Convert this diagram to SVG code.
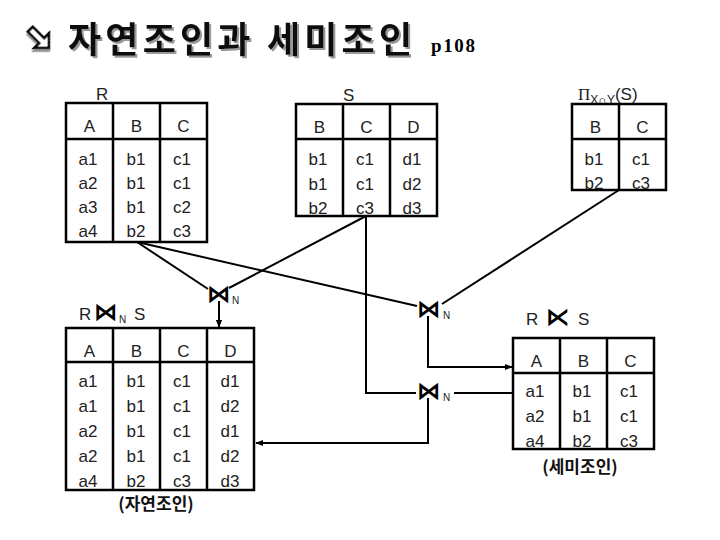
<svg xmlns="http://www.w3.org/2000/svg" width="720" height="540" viewBox="0 0 720 540">
<defs>
<style>
.tb{fill:#fff;stroke:#000;stroke-width:2.5}
.ln{stroke:#000;stroke-width:2.5;fill:none}
.cn{stroke:#000;stroke-width:2;fill:none}
.t{font-family:"Liberation Sans","Noto Sans CJK KR",sans-serif;font-size:17px;fill:#222;text-anchor:middle}
.lb{font-family:"Liberation Sans","Noto Sans CJK KR",sans-serif;font-size:17px;fill:#222}
.bt{font-family:"DejaVu Sans",sans-serif;font-size:24px;font-weight:bold;fill:#000}
.sub{font-family:"Liberation Sans",sans-serif;font-size:10px;fill:#222}
.kr{font-family:"Noto Sans CJK KR",sans-serif;font-weight:bold;fill:#111}
</style>
<filter id="sh" x="-5%" y="-20%" width="115%" height="150%">
<feOffset in="SourceAlpha" dx="2" dy="2" result="o"/>
<feFlood flood-color="#999"/>
<feComposite in2="o" operator="in" result="s"/>
<feMerge><feMergeNode in="s"/><feMergeNode in="SourceGraphic"/></feMerge>
</filter>
<marker id="ah" viewBox="0 0 10 10" refX="9" refY="5" markerWidth="8" markerHeight="8" markerUnits="userSpaceOnUse" orient="auto">
<path d="M0,1 L10,5 L0,9 Z" fill="#000"/>
</marker>
</defs>
<rect width="720" height="540" fill="#fff"/>

<g id="title">
<g transform="translate(40,39) rotate(45) scale(1.15)" filter="url(#sh)">
<polygon points="-12,-3 2,-3 2,-9 11,0 2,9 2,3 -12,3" fill="#fff" stroke="#000" stroke-width="2.3"/>
</g>
<text class="kr" x="68" y="53" font-size="36" textLength="344" lengthAdjust="spacing" filter="url(#sh)">자연조인과 세미조인</text>
<text x="431" y="52" font-family="Liberation Serif" font-weight="bold" font-size="19" textLength="44" lengthAdjust="spacing">p108</text>
</g>

<g id="connectors">
<line class="cn" x1="137" y1="242" x2="208" y2="289"/>
<line class="cn" x1="137" y1="242" x2="417" y2="306"/>
<line class="cn" x1="366" y1="216" x2="229" y2="288"/>
<polyline class="cn" points="366,216 366,393 416,393"/>
<line class="cn" x1="619" y1="190" x2="442" y2="304"/>
<line class="cn" x1="219" y1="301" x2="219" y2="327" marker-end="url(#ah)"/>
<polyline class="cn" points="428,316 428,367 512,367" marker-end="url(#ah)"/>
<line class="cn" x1="454" y1="393" x2="513" y2="393"/>
<polyline class="cn" points="428,398 428,443 256,443" marker-end="url(#ah)"/>
</g>

<g id="join1">
<text class="bt" x="219" y="302" text-anchor="middle">⋈</text>
<text class="sub" x="232" y="304">N</text>
</g>
<g id="join2">
<text class="bt" x="429" y="317" text-anchor="middle">⋈</text>
<text class="sub" x="443" y="319">N</text>
</g>
<g id="join3">
<text class="bt" x="429" y="399" text-anchor="middle">⋈</text>
<text class="sub" x="443" y="401">N</text>
</g>

<g id="tableR">
<text class="lb" x="96" y="100">R</text>
<rect class="tb" x="66" y="103" width="141" height="139"/>
<path class="ln" d="M66,139H207M113,103V242M160,103V242"/>
<text class="t" x="89.5" y="132">A</text><text class="t" x="136.5" y="132">B</text><text class="t" x="183.5" y="132">C</text>
<text class="t" x="88" y="165">a1</text><text class="t" x="136" y="165">b1</text><text class="t" x="182" y="165">c1</text>
<text class="t" x="88" y="189">a2</text><text class="t" x="136" y="189">b1</text><text class="t" x="182" y="189">c1</text>
<text class="t" x="88" y="213">a3</text><text class="t" x="136" y="213">b1</text><text class="t" x="182" y="213">c2</text>
<text class="t" x="88" y="237">a4</text><text class="t" x="136" y="237">b2</text><text class="t" x="182" y="237">c3</text>
</g>

<g id="tableS">
<text class="lb" x="343" y="101">S</text>
<rect class="tb" x="296" y="104" width="141" height="112"/>
<path class="ln" d="M296,139H437M343,104V216M390,104V216"/>
<text class="t" x="319.5" y="133">B</text><text class="t" x="366.5" y="133">C</text><text class="t" x="413.5" y="133">D</text>
<text class="t" x="318" y="165">b1</text><text class="t" x="365" y="165">c1</text><text class="t" x="412" y="165">d1</text>
<text class="t" x="318" y="190">b1</text><text class="t" x="365" y="190">c1</text><text class="t" x="412" y="190">d2</text>
<text class="t" x="318" y="214">b2</text><text class="t" x="365" y="214">c3</text><text class="t" x="412" y="214">d3</text>
</g>

<g id="tablePi">
<text class="lb" x="578" y="100"><tspan font-family="Liberation Serif">Π</tspan><tspan font-size="12" dy="4">X∩Y</tspan><tspan dy="-4">(S)</tspan></text>
<rect class="tb" x="572" y="104" width="94" height="86"/>
<path class="ln" d="M572,139H666M619,104V190"/>
<text class="t" x="595.5" y="133">B</text><text class="t" x="642.5" y="133">C</text>
<text class="t" x="594" y="165">b1</text><text class="t" x="641" y="165">c1</text>
<text class="t" x="594" y="189">b2</text><text class="t" x="641" y="189">c3</text>
</g>

<g id="tableJoin">
<text class="lb" x="79" y="320">R</text>
<text class="bt" x="94" y="320" font-size="19">⋈</text>
<text class="sub" x="119" y="323">N</text>
<text class="lb" x="134" y="320">S</text>
<rect class="tb" x="66" y="328" width="188" height="162"/>
<path class="ln" d="M66,362H254M113,328V490M160,328V490M207,328V490"/>
<text class="t" x="89.5" y="357">A</text><text class="t" x="136.5" y="357">B</text><text class="t" x="183.5" y="357">C</text><text class="t" x="230.5" y="357">D</text>
<text class="t" x="88" y="387">a1</text><text class="t" x="136" y="387">b1</text><text class="t" x="182" y="387">c1</text><text class="t" x="230" y="387">d1</text>
<text class="t" x="88" y="412">a1</text><text class="t" x="136" y="412">b1</text><text class="t" x="182" y="412">c1</text><text class="t" x="230" y="412">d2</text>
<text class="t" x="88" y="437">a2</text><text class="t" x="136" y="437">b1</text><text class="t" x="182" y="437">c1</text><text class="t" x="230" y="437">d1</text>
<text class="t" x="88" y="462">a2</text><text class="t" x="136" y="462">b1</text><text class="t" x="182" y="462">c1</text><text class="t" x="230" y="462">d2</text>
<text class="t" x="88" y="487">a4</text><text class="t" x="136" y="487">b2</text><text class="t" x="182" y="487">c3</text><text class="t" x="230" y="487">d3</text>
<text class="kr" x="156" y="510" font-size="17" text-anchor="middle">(자연조인)</text>
</g>

<g id="tableSemi">
<text class="lb" x="526" y="325">R</text>
<text class="bt" x="546" y="325" font-size="22">⋉</text>
<text class="lb" x="578" y="325">S</text>
<rect class="tb" x="513" y="338" width="141" height="111"/>
<path class="ln" d="M513,373H654M560,338V449M607,338V449"/>
<text class="t" x="536.5" y="367">A</text><text class="t" x="583.5" y="367">B</text><text class="t" x="630.5" y="367">C</text>
<text class="t" x="535" y="397">a1</text><text class="t" x="582" y="397">b1</text><text class="t" x="629" y="397">c1</text>
<text class="t" x="535" y="422">a2</text><text class="t" x="582" y="422">b1</text><text class="t" x="629" y="422">c1</text>
<text class="t" x="535" y="447">a4</text><text class="t" x="582" y="447">b2</text><text class="t" x="629" y="447">c3</text>
<text class="kr" x="580" y="473" font-size="17" text-anchor="middle">(세미조인)</text>
</g>
</svg>
